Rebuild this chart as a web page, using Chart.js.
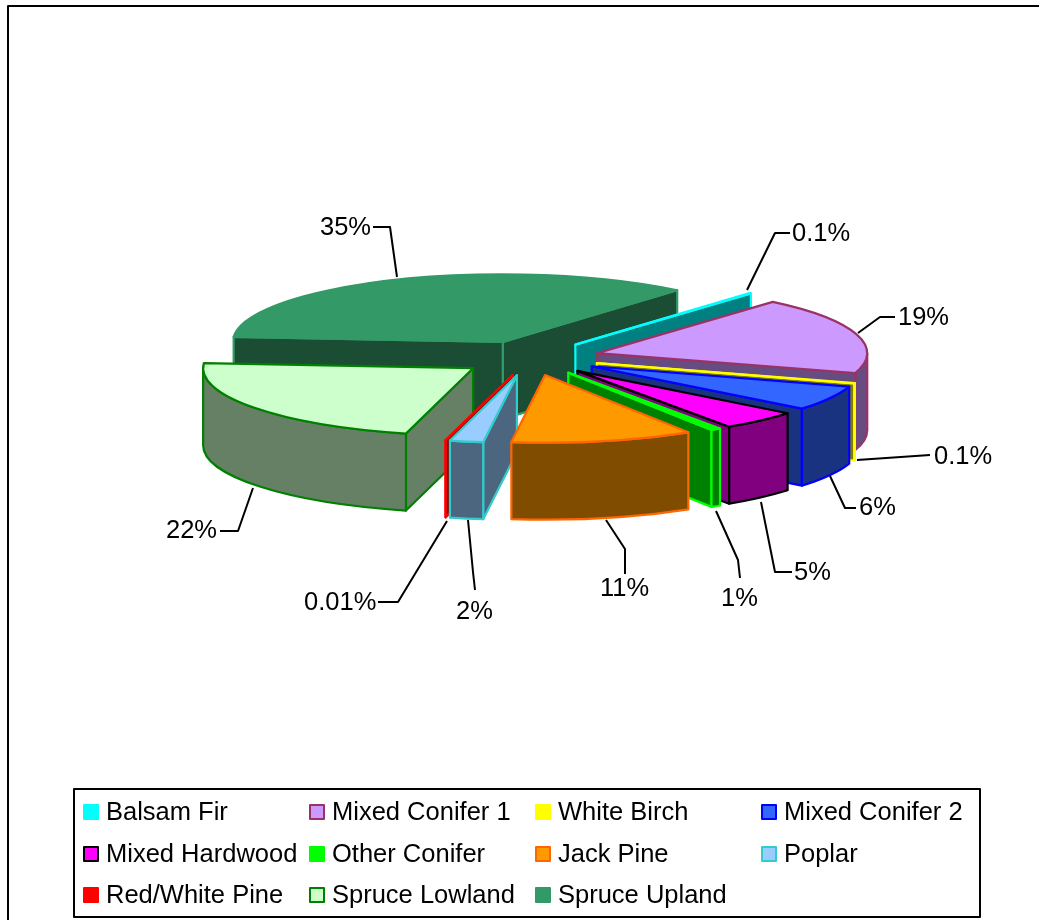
<!DOCTYPE html>
<html>
<head>
<meta charset="utf-8">
<title>Forest type pie</title>
<script src="https://cdn.jsdelivr.net/npm/chart.js@4"></script>
<style>
  html, body { margin: 0; padding: 0; background: #fff; overflow: hidden; }
  canvas { display: block; }
</style>
</head>
<body>
<canvas id="myChart" width="1039" height="920"></canvas>
<script>
const categories = ['Balsam Fir', 'Mixed Conifer 1', 'White Birch', 'Mixed Conifer 2', 'Mixed Hardwood',
    'Other Conifer', 'Jack Pine', 'Poplar', 'Red/White Pine', 'Spruce Lowland', 'Spruce Upland'];
// the slice sizes (they round to the printed labels)
const values = [0.1, 18.5, 0.1, 5.95, 4.7, 0.6, 10.9, 2, 0.01, 22.2, 35];
const pctLabels = ['0.1%', '19%', '0.1%', '6%', '5%', '1%', '11%', '2%', '0.01%', '22%', '35%'];

const topColors = ['#00ffff', '#cc99ff', '#ffff00', '#3366ff', '#ff00ff', '#00ff00', '#ff9900', '#99ccff', '#ff0000', '#ccffcc', '#339966'];
const lineColors = ['#00ffff', '#993366', '#ffff00', '#0000ff', '#000000', '#00ff00', '#ff6600', '#33cccc', '#ff0000', '#008000', '#339966'];
const wallColors = ['#008080', '#664c80', '#808000', '#1a3380', '#800080', '#008000', '#804c00', '#4c6680', '#800000', '#668066', '#1a4d33'];

// 3d look
const tilt = 0.25;
const depth = 77;
const explode = 70;
// back to front
const drawOrder = [10, 0, 1, 2, 3, 4, 5, 9, 8, 7, 6];

// leader line + label spot for each slice
const leaders = [
    { pts: [[790, 233], [775, 233], [747, 290]], text: [792, 234, 'left'] },
    { pts: [[895, 317], [880, 317], [858, 333]], text: [898, 318, 'left'] },
    { pts: [[930, 455], [857, 460]], text: [934, 457, 'left'] },
    { pts: [[856, 508], [845, 508], [830, 476]], text: [859, 508, 'left'] },
    { pts: [[792, 572], [775, 572], [761, 502]], text: [794, 573, 'left'] },
    { pts: [[740, 578], [738, 560], [716, 511]], text: [721, 599, 'left'] },
    { pts: [[625, 574], [625, 549], [606, 520]], text: [600, 589, 'left'] },
    { pts: [[475, 590], [473, 572], [468, 520]], text: [456, 612, 'left'] },
    { pts: [[378, 602], [398, 602], [447, 521]], text: [304, 603, 'left'] },
    { pts: [[220, 531], [238, 531], [253, 488]], text: [166, 531, 'left'] },
    { pts: [[373, 227], [390, 227], [397, 277]], text: [320, 228, 'left'] }
];

const legendCols = [83, 309, 535, 761];
const legendRows = [812, 854, 895];

const FONT = '25.5px "Liberation Sans", Arial, sans-serif';

function sliceOrigin(arc) {
    const mid = (arc.startAngle + arc.endAngle) / 2;
    return {
        ox: arc.x + Math.cos(mid) * explode,
        oy: arc.y + Math.sin(mid) * explode * tilt
    };
}

function point(o, r, a) {
    return [o.ox + Math.cos(a) * r, o.oy + Math.sin(a) * r * tilt];
}

function paintFace(ctx, fill, line) {
    ctx.fillStyle = fill;
    ctx.fill();
    ctx.strokeStyle = line;
    ctx.lineWidth = 2.2;
    ctx.lineJoin = 'round';
    ctx.stroke();
}

function drawSlice(chart, arc, i) {
    const ctx = chart.ctx;
    const o = sliceOrigin(arc);
    const r = arc.outerRadius;
    const s = arc.startAngle, e = arc.endAngle;

    // straight cut faces, only when they look at us
    [[s, -Math.cos(s)], [e, Math.cos(e)]].forEach(([a, facing]) => {
        if (facing <= 0) return;
        const p = point(o, r, a);
        ctx.beginPath();
        ctx.moveTo(o.ox, o.oy);
        ctx.lineTo(p[0], p[1]);
        ctx.lineTo(p[0], p[1] + depth);
        ctx.lineTo(o.ox, o.oy + depth);
        ctx.closePath();
        paintFace(ctx, wallColors[i], lineColors[i]);
    });

    // the round outside wall, front half of the ellipse only
    for (let n = -1; n < 3; n++) {
        const a0 = Math.max(s, n * 2 * Math.PI);
        const a1 = Math.min(e, n * 2 * Math.PI + Math.PI);
        if (a1 <= a0) continue;
        ctx.beginPath();
        ctx.ellipse(o.ox, o.oy, r, r * tilt, 0, a0, a1);
        ctx.ellipse(o.ox, o.oy + depth, r, r * tilt, 0, a1, a0, true);
        ctx.closePath();
        paintFace(ctx, wallColors[i], lineColors[i]);
    }

    // top: the library's own arc, squashed
    ctx.save();
    ctx.translate(o.ox, o.oy);
    ctx.scale(1, tilt);
    ctx.translate(-arc.x, -arc.y);
    arc.draw(ctx);
    ctx.restore();

    ctx.beginPath();
    ctx.moveTo(o.ox, o.oy);
    ctx.ellipse(o.ox, o.oy, r, r * tilt, 0, s, e);
    ctx.closePath();
    ctx.strokeStyle = lineColors[i];
    ctx.lineWidth = 2.2;
    ctx.lineJoin = 'round';
    ctx.stroke();
}

const pie3d = {
    id: 'pie3d',
    beforeDatasetDraw(chart) {
        const arcs = chart.getDatasetMeta(0).data;
        drawOrder.forEach(i => drawSlice(chart, arcs[i], i));
        return false;
    },
    afterDraw(chart) {
        const ctx = chart.ctx;
        ctx.save();

        // outer frame, only top and left are in the shot
        ctx.strokeStyle = '#000';
        ctx.lineWidth = 2;
        ctx.beginPath();
        ctx.moveTo(8, 920);
        ctx.lineTo(8, 6);
        ctx.lineTo(1039, 6);
        ctx.stroke();

        // percent labels
        ctx.font = FONT;
        ctx.fillStyle = '#000';
        ctx.textBaseline = 'middle';
        leaders.forEach((l, i) => {
            ctx.beginPath();
            l.pts.forEach((p, j) => j ? ctx.lineTo(p[0], p[1]) : ctx.moveTo(p[0], p[1]));
            ctx.lineWidth = 2;
            ctx.strokeStyle = '#000';
            ctx.stroke();
            ctx.textAlign = l.text[2];
            ctx.fillText(pctLabels[i], l.text[0], l.text[1]);
        });

        // legend, the built in one can't do equal columns
        ctx.fillStyle = '#fff';
        ctx.fillRect(74, 789, 906, 128);
        ctx.strokeStyle = '#000';
        ctx.lineWidth = 2;
        ctx.strokeRect(74, 789, 906, 128);
        ctx.textAlign = 'left';
        categories.forEach((name, i) => {
            const x = legendCols[i % 4];
            const y = legendRows[Math.floor(i / 4)];
            ctx.fillStyle = topColors[i];
            ctx.fillRect(x + 1, y - 7, 14, 14);
            ctx.strokeStyle = lineColors[i];
            ctx.strokeRect(x + 1, y - 7, 14, 14);
            ctx.fillStyle = '#000';
            ctx.fillText(name, x + 23, y + 1);
        });
        ctx.restore();
    }
};

let myChart = document.getElementById('myChart').getContext('2d');
let pieChart = new Chart(myChart, {
    type: 'pie',
    data: {
        labels: categories,
        datasets: [{
            data: values,
            backgroundColor: topColors,
            borderWidth: 0,
            rotation: 40.2,
            radius: 270
        }]
    },
    options: {
        responsive: false,
        animation: false,
        layout: { padding: { left: 21, bottom: 204 } },
        plugins: {
            legend: { display: false },
            tooltip: { enabled: false }
        }
    },
    plugins: [pie3d]
});
</script>
</body>
</html>
